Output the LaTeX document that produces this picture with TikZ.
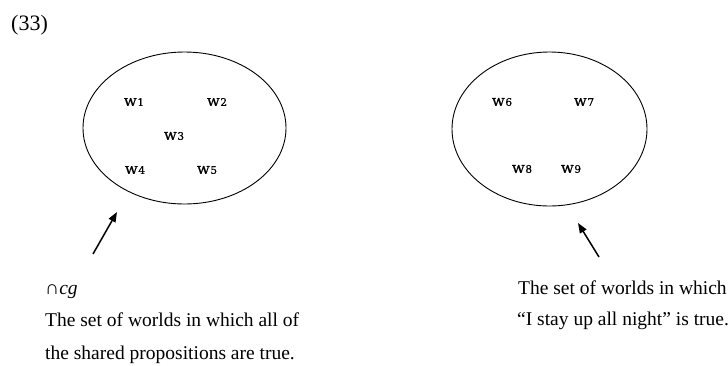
\documentclass[tikz,border=0pt]{standalone}
\usepackage{fontspec}
\setmainfont{Liberation Serif}
\newfontfamily\worldfont[FakeBold=0.8]{DejaVu Serif}
\usetikzlibrary{arrows.meta}

% a world label: a letter w with a small index digit on the baseline
\newcommand{\worldlabel}[1]{{\worldfont\fontsize{15}{15}\selectfont w\kern0.6pt{\fontsize{10.5}{10.5}\selectfont #1}}}

\tikzset{
  world/.style={inner sep=0pt, anchor=center},
  caption/.style={inner sep=0pt, anchor=base west, font=\fontsize{19.5}{23}\selectfont},
  pointer/.style={line width=1.5pt, -{Triangle[length=10pt,width=7.5pt]}},
}

\begin{document}
\begin{tikzpicture}[x=1pt,y=-1pt]
\useasboundingbox (0,0) rectangle (728,365);

\node[caption, font=\fontsize{22}{26}\selectfont] (num) at (11,30) {(33)};

% common ground worlds
\draw[line width=0.9pt] (184.5,128) ellipse [x radius=101.5, y radius=76];
\node[world] (w1) at (134,102) {\worldlabel{1}};
\node[world] (w2) at (217,102) {\worldlabel{2}};
\node[world] (w3) at (174,136) {\worldlabel{3}};
\node[world] (w4) at (135,170) {\worldlabel{4}};
\node[world] (w5) at (207,170) {\worldlabel{5}};

% worlds where the proposition holds
\draw[line width=0.9pt] (549.5,129) ellipse [x radius=97.5, y radius=77];
\node[world] (w6) at (502,102) {\worldlabel{6}};
\node[world] (w7) at (584,102) {\worldlabel{7}};
\node[world] (w8) at (522,169) {\worldlabel{8}};
\node[world] (w9) at (571,169) {\worldlabel{9}};

% pointers
\coordinate (tailL) at (93,254);
\coordinate (tipL) at (117,212);
\draw[pointer] (tailL) -- (tipL);
\coordinate (tailR) at (599,257);
\coordinate (tipR) at (578,223);
\draw[pointer] (tailR) -- (tipR);

% captions
\node[caption] (cgA) at (45,294) {∩\textit{cg}};
\node[caption] (cgB) at (45,326) {The set of worlds in which all of};
\node[caption] (cgC) at (45,359) {the shared propositions are true.};
\node[caption] (pA) at (518,294) {The set of worlds in which};
\node[caption] (pB) at (517,325) {“I stay up all night” is true.};
\end{tikzpicture}
\end{document}
